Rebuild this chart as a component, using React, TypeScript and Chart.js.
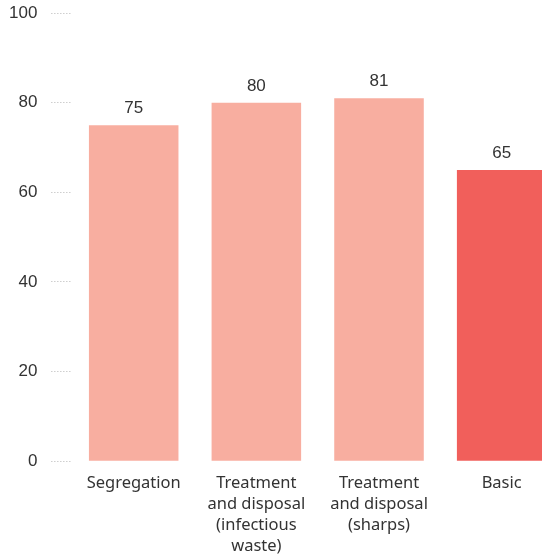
import React, { useEffect, useRef } from "react";
import { Chart, registerables } from "chart.js";

Chart.register(...registerables);

const categories: (string | string[])[] = [
  "Segregation",
  ["Treatment", "and disposal", "(infectious", "waste)"],
  ["Treatment", "and disposal", "(sharps)"],
  "Basic",
];
const values: number[] = [75, 80, 81, 65];
const barColors: string[] = ["#F8AEA0", "#F8AEA0", "#F8AEA0", "#F15F5B"];
const yTicks: number[] = [0, 20, 40, 60, 80, 100];

const valueLabelPlugin = {
  id: "valueLabels",
  afterDatasetsDraw(chart: any) {
    const ctx = chart.ctx;
    const meta = chart.getDatasetMeta(0);
    ctx.save();
    ctx.font = '17px "Liberation Sans", Arial, sans-serif';
    ctx.fillStyle = "#333333";
    ctx.textAlign = "center";
    ctx.textBaseline = "alphabetic";
    meta.data.forEach((bar: any, i: number) => {
      const v = chart.data.datasets[0].data[i];
      ctx.fillText(String(v), bar.x, bar.y - 12);
    });
    ctx.restore();
  },
};

export default function App() {
  const ref = useRef<HTMLCanvasElement | null>(null);
  useEffect(() => {
    if (!ref.current) return;
    const chart = new Chart(ref.current, {
      type: "bar",
      data: {
        labels: categories,
        datasets: [
          {
            data: values,
            backgroundColor: barColors,
            borderWidth: 0,
            categoryPercentage: 0.73,
            barPercentage: 1,
          },
        ],
      },
      options: {
        animation: false,
        responsive: false,
        maintainAspectRatio: false,
        devicePixelRatio: 1,
        layout: { padding: 0 },
        plugins: {
          legend: { display: false },
          tooltip: { enabled: false },
        },
        scales: {
          x: {
            grid: { display: false },
            border: { display: false },
            ticks: {
              padding: 4,
              color: "#333333",
              maxRotation: 0,
              autoSkip: false,
              font: { family: '"Noto Sans", sans-serif', size: 16.5, lineHeight: 1.27 },
            },
          },
          y: {
            min: 0,
            max: 100,
            afterBuildTicks: (scale: any) => {
              scale.ticks = yTicks.map((v) => ({ value: v }));
            },
            border: { display: false },
            grid: {
              drawOnChartArea: false,
              drawTicks: true,
              tickLength: 21,
              tickColor: "#b5b5b5",
              tickBorderDash: [1, 2],
              tickWidth: 1,
            },
            ticks: {
              padding: 14,
              color: "#333333",
              font: { family: '"Liberation Sans", Arial, sans-serif', size: 17 },
            },
          },
        },
      },
      plugins: [valueLabelPlugin],
    });
    return () => chart.destroy();
  }, []);
  return (
    <div
      style={{
        position: "absolute",
        left: 0,
        top: 0,
        width: 542,
        height: 559,
        overflow: "hidden",
      }}
    >
      <canvas
        ref={ref}
        width={568}
        height={572}
        style={{ position: "absolute", left: -5, top: -11, width: 568, height: 572 }}
      />
    </div>
  );
}
